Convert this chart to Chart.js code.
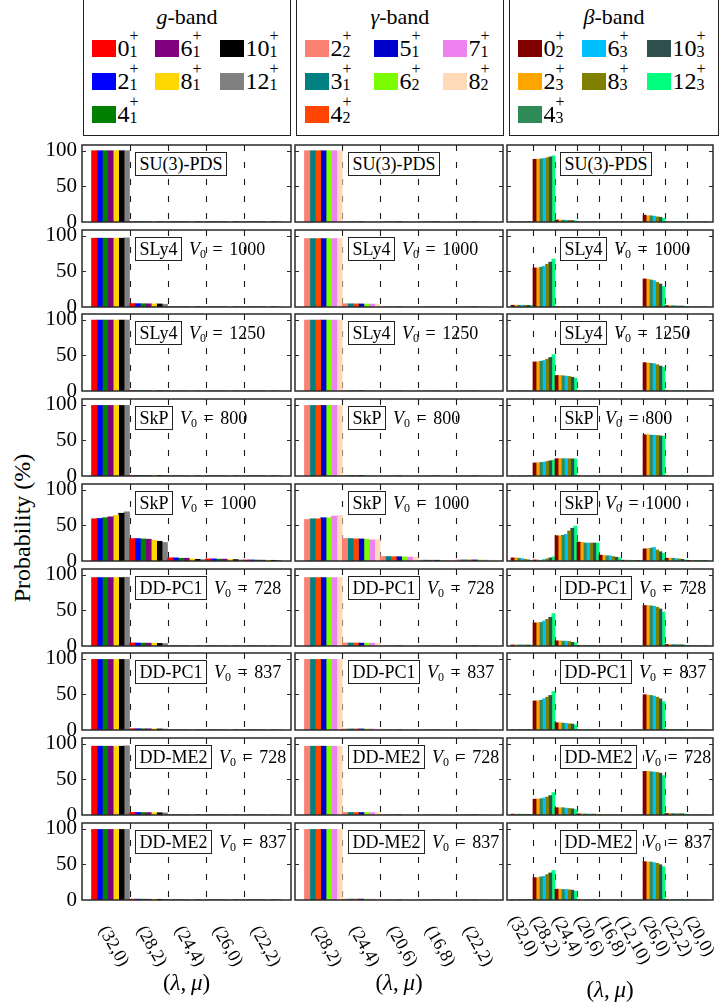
<!DOCTYPE html>
<html>
<head>
<meta charset="utf-8">
<script src="https://cdn.jsdelivr.net/npm/chart.js@4.4.1/dist/chart.umd.min.js"></script>
<style>
html,body{margin:0;padding:0;background:#fff;}
body{position:relative;width:723px;height:1002px;overflow:hidden;font-family:"Liberation Serif","Times New Roman",serif;color:#000;}
canvas{position:absolute;}
.lg{position:absolute;top:-3px;height:139px;border:1.5px solid #222;box-sizing:border-box;background:#fff;}
.lg .t{position:absolute;left:0;right:0;top:7px;text-align:center;font-size:22px;line-height:24px;white-space:nowrap;}
.en{position:absolute;width:24px;height:17px;}
.sw{position:absolute;left:0;top:0;width:24px;height:17px;}
.lb{position:absolute;left:26px;top:-4px;font-size:24px;line-height:24px;white-space:nowrap;}
.ss{display:inline-block;position:relative;width:12px;height:24px;vertical-align:top;}
.ss .p,.ss .s{position:absolute;left:0;font-size:16px;line-height:16px;}
.ss .p{top:-8px;}
.ss .s{top:8px;}
.tag{position:absolute;display:flex;align-items:center;z-index:5;white-space:nowrap;font-size:18px;}
.box{border:1.5px solid #222;background:#fff;padding:1px 3.5px;line-height:20px;}
.v0{margin-left:7px;line-height:20px;}
.v0 sub{font-size:12px;vertical-align:-3px;line-height:0;}
.eq{margin:0 2px;}
.xt{position:absolute;width:120px;text-align:center;font-size:23px;line-height:26px;z-index:5;}
.yt{position:absolute;left:-78px;top:514px;width:200px;height:28px;line-height:28px;text-align:center;font-size:24px;transform:rotate(-90deg);}
</style>
</head>
<body>
<div class="yt">Probability (%)</div>
<script>
// ---------- categories, states, colours, tick values ----------
const yTicks = [0, 50, 100];
const yMax = 108;

const gCats = ['(32,0)', '(28,2)', '(24,4)', '(26,0)', '(22,2)'];
const gammaCats = ['(28,2)', '(24,4)', '(20,6)', '(16,8)', '(22,2)'];
const betaCats = ['(32,0)', '(28,2)', '(24,4)', '(20,6)', '(16,8)', '(12,10)', '(26,0)', '(22,2)', '(20,0)'];

const gStates = [['0','1'],['2','1'],['4','1'],['6','1'],['8','1'],['10','1'],['12','1']];
const gammaStates = [['2','2'],['3','1'],['4','2'],['5','1'],['6','2'],['7','1'],['8','2']];
const betaStates = [['0','2'],['2','3'],['4','3'],['6','3'],['8','3'],['10','3'],['12','3']];

const gColors = ['#ff0000', '#0000ff', '#008000', '#800080', '#ffd700', '#000000', '#808080'];
const gammaColors = ['#fa8072', '#008080', '#ff4500', '#0000cd', '#7cfc00', '#ee82ee', '#ffdab9'];
const betaColors = ['#800000', '#ffa500', '#2e8b57', '#00bfff', '#808000', '#2f4f4f', '#00ff7f'];

const modelNames = ['SU(3)-PDS', 'SLy4', 'SLy4', 'SkP', 'SkP', 'DD-PC1', 'DD-PC1', 'DD-ME2', 'DD-ME2'];
const v0Values = [null, 1000, 1250, 800, 1000, 728, 837, 728, 837];

// ---------- g-band: rows = states 0+,2+,...,12+ ; columns = gCats ----------
const g_SU3PDS = [
  [100, 0.4, 0.4, 0.4, 0.4], [100, 0.4, 0.4, 0.4, 0.4], [100, 0.4, 0.4, 0.4, 0.4], [100, 0.4, 0.4, 0.4, 0.4],
  [100, 0.4, 0.4, 0.4, 0.4], [100, 0.4, 0.4, 0.4, 0.4], [100, 0.4, 0.4, 0.4, 0.4]];
const g_SLy4_1000 = [
  [96.5, 4.8, 0.3, 0.3, 0.2], [96.5, 4.7, 0.3, 0.3, 0.2], [96.5, 4.6, 0.3, 0.3, 0.2], [96.5, 4.5, 0.3, 0.3, 0.2],
  [96.5, 4.4, 0.3, 0.2, 0.2], [96.5, 4.3, 0.3, 0.2, 0.2], [97, 3.9, 0.2, 0.2, 0.2]];
const g_SLy4_1250 = [
  [99.5, 0.5, 0.1, 0.1, 0.1], [99.5, 0.5, 0.1, 0.1, 0.1], [99.5, 0.5, 0.1, 0.1, 0.1], [99.5, 0.5, 0.1, 0.1, 0.1],
  [99.5, 0.5, 0.1, 0.1, 0.1], [99.5, 0.4, 0.1, 0.1, 0.1], [99.5, 0.4, 0.1, 0.1, 0.1]];
const g_SkP_800 = [
  [99, 0.8, 0.3, 0.3, 0.3], [99, 0.8, 0.3, 0.3, 0.3], [99, 0.8, 0.3, 0.3, 0.3], [99, 0.8, 0.3, 0.3, 0.3],
  [99, 0.8, 0.3, 0.3, 0.3], [99, 0.7, 0.3, 0.3, 0.3], [99, 0.7, 0.3, 0.3, 0.3]];
const g_SkP_1000 = [
  [59.2, 31.5, 4.4, 3.0, 1.5], [59.7, 31.5, 4.4, 3.0, 1.5], [60.7, 31.0, 3.9, 2.6, 1.3], [62.0, 30.6, 3.9, 2.6, 1.2],
  [64.0, 29.0, 2.9, 2.0, 1.1], [67.0, 27.7, 2.4, 2.0, 1.0], [69.0, 26.0, 2.0, 1.5, 0.8]];
const g_DDPC1_728 = [
  [96, 4.3, 0.3, 0.2, 0.2], [96, 4.2, 0.3, 0.2, 0.2], [96, 4.1, 0.3, 0.2, 0.2], [96, 4.0, 0.3, 0.2, 0.2],
  [96, 3.9, 0.3, 0.2, 0.2], [96, 3.7, 0.2, 0.2, 0.2], [96.5, 3.5, 0.2, 0.2, 0.2]];
const g_DDPC1_837 = [
  [99, 1.8, 0.2, 0.2, 0.2], [99, 1.8, 0.2, 0.2, 0.2], [99, 1.7, 0.2, 0.2, 0.2], [99, 1.7, 0.2, 0.2, 0.2],
  [99, 1.6, 0.2, 0.2, 0.2], [99, 1.5, 0.2, 0.2, 0.2], [99, 1.4, 0.2, 0.2, 0.2]];
const g_DDME2_728 = [
  [96.5, 3.6, 0.3, 0.3, 0.2], [96.5, 3.6, 0.3, 0.3, 0.2], [96.5, 3.5, 0.3, 0.3, 0.2], [96.5, 3.4, 0.3, 0.3, 0.2],
  [96.5, 3.3, 0.3, 0.3, 0.2], [96.5, 3.2, 0.3, 0.2, 0.2], [97, 3.0, 0.2, 0.2, 0.2]];
const g_DDME2_837 = [
  [99, 1.2, 0.3, 0.3, 0.3], [99, 1.2, 0.3, 0.3, 0.3], [99, 1.2, 0.3, 0.3, 0.3], [99, 1.1, 0.3, 0.3, 0.3],
  [99, 1.1, 0.3, 0.3, 0.3], [99, 1.0, 0.3, 0.3, 0.3], [99, 1.0, 0.3, 0.3, 0.3]];

// ---------- gamma-band: rows = states 2_2,3_1,4_2,5_1,6_2,7_1,8_2 ; columns = gammaCats ----------
const gamma_SU3PDS = [
  [100, 0.4, 0.4, 0.4, 0.4], [100, 0.4, 0.4, 0.4, 0.4], [100, 0.4, 0.4, 0.4, 0.4], [100, 0.4, 0.4, 0.4, 0.4],
  [100, 0.4, 0.4, 0.4, 0.4], [100, 0.4, 0.4, 0.4, 0.4], [100, 0.4, 0.4, 0.4, 0.4]];
const gamma_SLy4_1000 = [
  [96, 4.5, 0.2, 0.2, 0.2], [96, 4.5, 0.2, 0.2, 0.2], [96, 4.4, 0.2, 0.2, 0.2], [96, 4.3, 0.2, 0.2, 0.2],
  [96, 4.2, 0.2, 0.2, 0.2], [96, 4.1, 0.2, 0.2, 0.2], [96, 4.0, 0.2, 0.2, 0.2]];
const gamma_SLy4_1250 = [
  [99.5, 0.5, 0.1, 0.1, 0.1], [99.5, 0.5, 0.1, 0.1, 0.1], [99.5, 0.5, 0.1, 0.1, 0.1], [99.5, 0.5, 0.1, 0.1, 0.1],
  [99.5, 0.5, 0.1, 0.1, 0.1], [99.5, 0.5, 0.1, 0.1, 0.1], [99.5, 0.5, 0.1, 0.1, 0.1]];
const gamma_SkP_800 = [
  [99, 0.9, 0.3, 0.3, 0.3], [99, 0.9, 0.3, 0.3, 0.3], [99, 0.9, 0.3, 0.3, 0.3], [99, 0.9, 0.3, 0.3, 0.3],
  [99, 0.9, 0.3, 0.3, 0.3], [99, 0.8, 0.3, 0.3, 0.3], [99, 0.8, 0.3, 0.3, 0.3]];
const gamma_SkP_1000 = [
  [58.3, 31.5, 6.3, 1.2, 1.6], [59.2, 31.5, 6.3, 1.2, 1.6], [59.2, 31.0, 6.0, 1.1, 1.5], [60.7, 31.0, 6.0, 1.1, 1.5],
  [60.7, 30.6, 5.8, 1.0, 1.4], [63.0, 29.6, 5.5, 1.0, 1.3], [64.0, 30.0, 5.3, 0.9, 1.2]];
const gamma_DDPC1_728 = [
  [96, 4.3, 0.3, 0.2, 0.3], [96, 4.3, 0.3, 0.2, 0.3], [96, 4.2, 0.3, 0.2, 0.3], [96, 4.1, 0.3, 0.2, 0.3],
  [96, 4.0, 0.3, 0.2, 0.3], [96, 3.9, 0.3, 0.2, 0.3], [96, 3.8, 0.3, 0.2, 0.3]];
const gamma_DDPC1_837 = [
  [99, 1.5, 0.2, 0.2, 0.2], [99, 1.5, 0.2, 0.2, 0.2], [99, 1.5, 0.2, 0.2, 0.2], [99, 1.5, 0.2, 0.2, 0.2],
  [99, 1.4, 0.2, 0.2, 0.2], [99, 1.4, 0.2, 0.2, 0.2], [99, 1.3, 0.2, 0.2, 0.2]];
const gamma_DDME2_728 = [
  [96.5, 3.6, 0.3, 0.2, 0.3], [96.5, 3.6, 0.3, 0.2, 0.3], [96.5, 3.5, 0.3, 0.2, 0.3], [96.5, 3.5, 0.3, 0.2, 0.3],
  [96.5, 3.4, 0.3, 0.2, 0.3], [96.5, 3.3, 0.3, 0.2, 0.3], [96.5, 3.2, 0.3, 0.2, 0.3]];
const gamma_DDME2_837 = [
  [99, 1.3, 0.2, 0.2, 0.2], [99, 1.3, 0.2, 0.2, 0.2], [99, 1.3, 0.2, 0.2, 0.2], [99, 1.3, 0.2, 0.2, 0.2],
  [99, 1.2, 0.2, 0.2, 0.2], [99, 1.2, 0.2, 0.2, 0.2], [99, 1.2, 0.2, 0.2, 0.2]];

// ---------- beta-band: rows = states 0_2,2_3,...,12_3 ; columns = betaCats ----------
const beta_SU3PDS = [
  [0.4, 88.0, 2.9, 0.3, 0.3, 0.3, 9.6, 0.3, 0.3], [0.4, 88.0, 2.8, 0.3, 0.3, 0.3, 8.7, 0.3, 0.3],
  [0.4, 88.5, 2.6, 0.3, 0.3, 0.3, 8.7, 0.3, 0.3], [0.4, 89.0, 2.5, 0.3, 0.3, 0.3, 8.2, 0.3, 0.3],
  [0.4, 90.0, 2.3, 0.3, 0.3, 0.3, 7.2, 0.3, 0.3], [0.4, 91.3, 2.0, 0.3, 0.3, 0.3, 6.7, 0.3, 0.3],
  [0.4, 92.8, 1.8, 0.3, 0.3, 0.3, 5.3, 0.3, 0.3]];
const beta_SLy4_1000 = [
  [2.5, 54.8, 0.8, 0.2, 0.2, 0.2, 39.4, 2.0, 0.3], [2.5, 54.8, 0.8, 0.2, 0.2, 0.2, 39.0, 2.0, 0.3],
  [2.5, 55.8, 0.8, 0.2, 0.2, 0.2, 38.0, 1.8, 0.3], [2.4, 57.2, 0.7, 0.2, 0.2, 0.2, 37.0, 1.7, 0.3],
  [2.4, 60.0, 0.7, 0.2, 0.2, 0.2, 34.6, 1.5, 0.3], [2.3, 63.0, 0.6, 0.2, 0.2, 0.2, 32.2, 1.3, 0.3],
  [2.3, 67.3, 0.6, 0.2, 0.2, 0.2, 28.8, 1.0, 0.3]];
const beta_SLy4_1250 = [
  [0.3, 40.8, 21.8, 0.3, 0.2, 0.2, 39.8, 0.3, 0.2], [0.3, 40.8, 21.8, 0.3, 0.2, 0.2, 39.3, 0.3, 0.2],
  [0.3, 41.7, 21.4, 0.3, 0.2, 0.2, 38.8, 0.3, 0.2], [0.3, 42.7, 20.9, 0.3, 0.2, 0.2, 38.3, 0.3, 0.2],
  [0.3, 44.7, 20.4, 0.3, 0.2, 0.2, 36.9, 0.3, 0.2], [0.3, 47.0, 19.4, 0.3, 0.2, 0.2, 35.0, 0.3, 0.2],
  [0.3, 51.0, 18.0, 0.3, 0.2, 0.2, 33.5, 0.3, 0.2]];
const beta_SkP_800 = [
  [0.3, 18.4, 24.3, 0.3, 0.2, 0.2, 57.8, 0.3, 0.2], [0.3, 18.4, 24.3, 0.3, 0.2, 0.2, 57.8, 0.3, 0.2],
  [0.3, 19.0, 24.3, 0.3, 0.2, 0.2, 57.3, 0.3, 0.2], [0.3, 19.4, 24.3, 0.3, 0.2, 0.2, 57.3, 0.3, 0.2],
  [0.3, 20.4, 24.2, 0.3, 0.2, 0.2, 56.8, 0.3, 0.2], [0.3, 21.4, 24.0, 0.3, 0.2, 0.2, 56.3, 0.3, 0.2],
  [0.3, 22.3, 24.0, 0.3, 0.2, 0.2, 55.8, 0.3, 0.2]];
const beta_SkP_1000 = [
  [4.4, 1.5, 35.4, 26.7, 8.3, 1.2, 17.0, 3.9, 1.0], [4.4, 1.5, 35.4, 26.2, 7.8, 1.2, 17.5, 3.9, 1.0],
  [3.9, 1.0, 36.0, 25.2, 7.3, 1.1, 18.0, 3.9, 0.9], [3.4, 2.0, 37.4, 25.2, 7.3, 1.0, 19.0, 3.4, 0.9],
  [2.4, 3.0, 42.2, 25.2, 6.3, 0.9, 15.5, 2.9, 0.8], [1.5, 4.4, 46.0, 25.2, 5.3, 0.8, 13.0, 2.4, 0.7],
  [1.0, 5.8, 49.0, 25.2, 4.4, 0.7, 10.7, 1.5, 0.6]];
const beta_DDPC1_728 = [
  [1.5, 32.5, 7.3, 0.8, 0.3, 0.2, 56.8, 2.2, 0.5], [1.5, 32.5, 7.3, 0.8, 0.3, 0.2, 56.8, 2.2, 0.5],
  [1.5, 33.0, 6.8, 0.8, 0.3, 0.2, 56.3, 2.0, 0.5], [1.5, 35.0, 6.8, 0.7, 0.3, 0.2, 55.8, 2.0, 0.4],
  [1.4, 37.4, 6.3, 0.7, 0.3, 0.2, 54.4, 1.8, 0.4], [1.4, 40.3, 5.3, 0.6, 0.2, 0.2, 52.0, 1.6, 0.4],
  [1.3, 45.6, 4.4, 0.5, 0.2, 0.1, 47.6, 1.2, 0.3]];
const beta_DDPC1_837 = [
  [0.5, 40.8, 10.2, 0.3, 0.2, 0.1, 49.5, 0.8, 0.2], [0.5, 40.8, 10.2, 0.3, 0.2, 0.1, 49.0, 0.8, 0.2],
  [0.5, 41.7, 9.7, 0.3, 0.2, 0.1, 48.5, 0.8, 0.2], [0.5, 43.7, 9.2, 0.3, 0.2, 0.1, 47.6, 0.7, 0.2],
  [0.5, 46.0, 8.7, 0.3, 0.2, 0.1, 46.0, 0.7, 0.2], [0.5, 48.5, 8.3, 0.3, 0.2, 0.1, 43.7, 0.6, 0.2],
  [0.4, 53.9, 7.3, 0.3, 0.2, 0.1, 39.8, 0.5, 0.2]];
const beta_DDME2_728 = [
  [1.2, 22.3, 10.2, 1.7, 0.4, 0.2, 61.2, 2.2, 0.3], [1.2, 22.3, 10.2, 1.6, 0.4, 0.2, 61.2, 2.2, 0.3],
  [1.2, 22.8, 10.2, 1.5, 0.4, 0.2, 60.7, 2.1, 0.3], [1.1, 23.8, 9.7, 1.4, 0.4, 0.2, 60.2, 2.0, 0.3],
  [1.1, 25.2, 9.2, 1.3, 0.3, 0.2, 59.7, 1.9, 0.3], [1.0, 27.2, 8.7, 1.2, 0.3, 0.2, 58.7, 1.7, 0.3],
  [1.0, 31.5, 7.8, 1.0, 0.3, 0.2, 55.3, 1.4, 0.3]];
const beta_DDME2_837 = [
  [0.5, 31.4, 15.2, 0.3, 0.2, 0.1, 53.8, 0.6, 0.2], [0.5, 31.4, 15.2, 0.3, 0.2, 0.1, 53.3, 0.6, 0.2],
  [0.5, 32.4, 14.8, 0.3, 0.2, 0.1, 53.3, 0.6, 0.2], [0.5, 33.3, 14.8, 0.3, 0.2, 0.1, 52.4, 0.6, 0.2],
  [0.5, 35.7, 14.3, 0.3, 0.2, 0.1, 51.4, 0.5, 0.2], [0.5, 38.0, 13.8, 0.3, 0.2, 0.1, 49.5, 0.5, 0.2],
  [0.4, 41.4, 12.4, 0.3, 0.2, 0.1, 46.7, 0.4, 0.2]];

const gPanels = [g_SU3PDS, g_SLy4_1000, g_SLy4_1250, g_SkP_800, g_SkP_1000, g_DDPC1_728, g_DDPC1_837, g_DDME2_728, g_DDME2_837];
const gammaPanels = [gamma_SU3PDS, gamma_SLy4_1000, gamma_SLy4_1250, gamma_SkP_800, gamma_SkP_1000, gamma_DDPC1_728, gamma_DDPC1_837, gamma_DDME2_728, gamma_DDME2_837];
const betaPanels = [beta_SU3PDS, beta_SLy4_1000, beta_SLy4_1250, beta_SkP_800, beta_SkP_1000, beta_DDPC1_728, beta_DDPC1_837, beta_DDME2_728, beta_DDME2_837];

// ---------- layout (positions / styles only) ----------
const rowTops = [145, 230, 314, 399, 484, 569, 653, 738, 823];
const panelH = 77;
const columns = [
  {cats: gCats, states: gStates, colors: gColors, panels: gPanels, title: '<i>g</i>-band',
   left: 82, width: 209, margin: 0.25, lgLeft: 83, lgWidth: 208, lgCols: [9, 72, 137], lblPad: 23, lblDx: 3, titleY: 983},
  {cats: gammaCats, states: gammaStates, colors: gammaColors, panels: gammaPanels, title: '<i>γ</i>-band',
   left: 295, width: 208, margin: 0.25, lgLeft: 296, lgWidth: 208, lgCols: [9, 78, 147], lblPad: 23, lblDx: 3, titleY: 983},
  {cats: betaCats, states: betaStates, colors: betaColors, panels: betaPanels, title: '<i>β</i>-band',
   left: 507, width: 206, margin: 0.18, lgLeft: 509, lgWidth: 210, lgCols: [9, 73, 138], lblPad: 13, lblDx: 1, titleY: 990}
];

Chart.defaults.font.family = '"Liberation Serif", "Times New Roman", serif';
Chart.defaults.color = '#000';

const decor = {
  id: 'decor',
  beforeDatasetsDraw(chart, args, o) {
    const {ctx, chartArea: a} = chart;
    const x = chart.scales.x;
    ctx.save();
    ctx.strokeStyle = '#1a1a1a';
    ctx.lineWidth = 1.1;
    ctx.setLineDash([6, 11]);
    for (let i = 0; i < o.n - 1; i++) {
      const px = Math.round(x.getPixelForValue(i + 0.5)) + 0.5;
      ctx.beginPath(); ctx.moveTo(px, a.top); ctx.lineTo(px, a.bottom); ctx.stroke();
    }
    ctx.restore();
  },
  afterDraw(chart, args, o) {
    const {ctx, chartArea: a} = chart;
    const x = chart.scales.x, y = chart.scales.y;
    ctx.save();
    ctx.strokeStyle = '#2a2a2a';
    ctx.lineWidth = 1.5;
    ctx.strokeRect(a.left, a.top, a.right - a.left, a.bottom - a.top);
    ctx.lineWidth = 1.2;
    yTicks.forEach(v => {
      if (v === 0) return;
      const py = Math.round(y.getPixelForValue(v)) + 0.5;
      ctx.beginPath();
      ctx.moveTo(a.left, py); ctx.lineTo(a.left + 4, py);
      ctx.moveTo(a.right - 4, py); ctx.lineTo(a.right, py);
      ctx.stroke();
    });
    if (o.labels) {
      ctx.fillStyle = '#000';
      ctx.font = '18px "Liberation Serif", serif';
      ctx.textAlign = 'center';
      ctx.textBaseline = 'middle';
      const th = 60 * Math.PI / 180, fh = 18;
      o.labels.forEach((t, i) => {
        const L = ctx.measureText(t).width;
        const bh = L * Math.sin(th) + fh * Math.cos(th);
        const cx = x.getPixelForValue(i) + o.dx;
        const cy = a.bottom + o.pad + bh / 2;
        ctx.save(); ctx.translate(cx, cy); ctx.rotate(th); ctx.fillText(t, 0, 0); ctx.restore();
      });
    }
    ctx.restore();
  }
};

function stateLabel(st) {
  return `${st[0]}<span class="ss"><span class="p">+</span><span class="s">${st[1]}</span></span>`;
}

columns.forEach((col, c) => {
  // legend box
  const lg = document.createElement('div');
  lg.className = 'lg';
  lg.style.left = col.lgLeft + 'px';
  lg.style.width = col.lgWidth + 'px';
  let html = `<div class="t">${col.title}</div>`;
  const rowY = [42, 75, 108];
  col.states.forEach((st, s) => {
    const cx = s < 3 ? 0 : (s < 5 ? 1 : 2);
    const ry = s < 3 ? s : (s < 5 ? s - 3 : s - 5);
    html += `<div class="en" style="left:${col.lgCols[cx] - 1.5}px;top:${rowY[ry]}px"><span class="sw" style="background:${col.colors[s]}"></span><span class="lb">${stateLabel(st)}</span></div>`;
  });
  lg.innerHTML = html;
  document.body.appendChild(lg);

  // x-axis title
  const xt = document.createElement('div');
  xt.className = 'xt';
  xt.style.left = (col.left + col.width / 2 - 60) + 'px';
  xt.style.top = (col.titleY - 13) + 'px';
  xt.innerHTML = '(<i>λ</i>,&thinsp;<i>μ</i>)';
  document.body.appendChild(xt);

  col.panels.forEach((vals, r) => {
    const top = rowTops[r];
    const last = r === rowTops.length - 1;
    const axisW = c === 0 ? 50 : 0;
    const padL = c === 0 ? 50 : 3, padR = 3, padT = 14, padB = 14 + (last ? 85 : 0);
    const W = col.width + padL + padR, H = panelH + padT + padB;
    const cv = document.createElement('canvas');
    cv.width = W; cv.height = H;
    cv.style.left = (col.left - padL) + 'px';
    cv.style.top = (top - padT) + 'px';
    cv.style.width = W + 'px';
    cv.style.height = H + 'px';
    document.body.appendChild(cv);
    new Chart(cv, {
      type: 'bar',
      data: {
        datasets: vals.map((row, s) => ({
          label: col.states[s].join('_'),
          data: row.map((v, i) => ({x: i, y: v})),
          backgroundColor: col.colors[s],
          borderWidth: 0,
          barPercentage: 1,
          categoryPercentage: 1
        }))
      },
      options: {
        responsive: false,
        animation: false,
        devicePixelRatio: 1,
        layout: {padding: {left: c === 0 ? 0 : padL, right: padR, top: padT, bottom: padB}},
        plugins: {
          legend: {display: false},
          tooltip: {enabled: false},
          decor: {n: col.cats.length, labels: last ? col.cats : null, pad: col.lblPad, dx: col.lblDx}
        },
        scales: {
          x: {
            type: 'linear',
            min: -0.5 - col.margin,
            max: col.cats.length - 0.5 + col.margin,
            offset: false,
            display: false,
            grid: {display: false, offset: false},
            afterBuildTicks: s => { s.ticks = col.cats.map((_, i) => ({value: i})); }
          },
          y: {
            min: 0,
            max: yMax,
            display: c === 0,
            afterBuildTicks: s => { s.ticks = yTicks.map(v => ({value: v})); },
            afterFit: s => { s.width = axisW; s.paddingTop = 0; s.paddingBottom = 0; },
            grid: {display: false, drawTicks: false},
            border: {display: false},
            ticks: {font: {size: 21}, color: '#000', padding: 5}
          }
        }
      },
      plugins: [decor]
    });

    const tag = document.createElement('div');
    tag.className = 'tag';
    tag.style.left = (col.left + 53) + 'px';
    tag.style.top = (top + 7) + 'px';
    tag.innerHTML = `<span class="box">${modelNames[r]}</span>` +
      (v0Values[r] ? `<span class="v0"><i>V</i><sub>0</sub> <span class="eq">=</span> ${v0Values[r]}</span>` : '');
    document.body.appendChild(tag);
  });
});
</script>
</body>
</html>
